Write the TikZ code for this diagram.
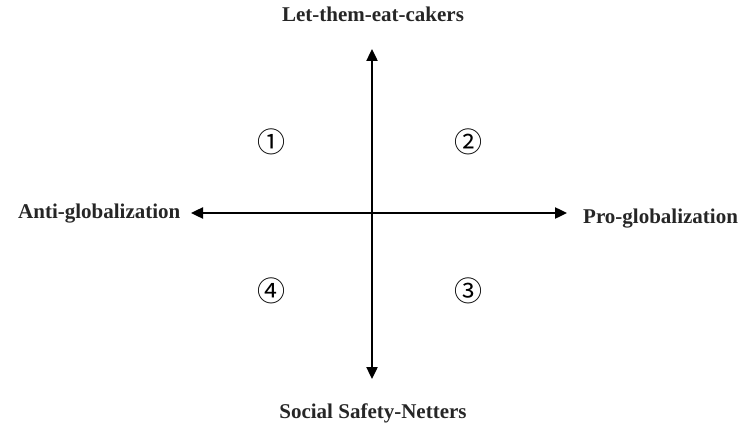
\documentclass[tikz,border=0pt]{standalone}
\usepackage{fontspec}
\setmainfont{Liberation Serif}
\newfontfamily\symfont{Noto Sans CJK JP}
\usetikzlibrary{arrows.meta}
\begin{document}
\begin{tikzpicture}[x=1pt,y=-1pt,
  axislabel/.style={font=\fontsize{21}{24}\selectfont\bfseries, text=black!85, inner sep=0pt},
  quadnum/.style={font=\symfont\fontsize{28}{30}\selectfont, inner sep=0pt},
  axis/.style={line width=2.4pt, {Triangle[length=12pt,width=11pt]}-{Triangle[length=12pt,width=11pt]}}]
  \useasboundingbox (0,0) rectangle (752,425);

  % axis end points
  \coordinate (top) at (372,49);
  \coordinate (bottom) at (372,379);
  \coordinate (left) at (191,213);
  \coordinate (right) at (567,213);

  \draw[axis] (bottom) -- (top);
  \draw[axis] (left) -- (right);

  % axis labels
  \node[axislabel, anchor=base] (north) at (373,22) {Let-them-eat-cakers};
  \node[axislabel, anchor=base] (south) at (373,418) {Social Safety-Netters};
  \node[axislabel, anchor=base west] (west) at (18,218) {Anti-globalization};
  \node[axislabel, anchor=base west] (east) at (583,223) {Pro-globalization};

  % quadrant numbers
  \node[quadnum] (q1) at (271,142) {①};
  \node[quadnum] (q2) at (468,142) {②};
  \node[quadnum] (q3) at (468,291) {③};
  \node[quadnum] (q4) at (271,291) {④};
\end{tikzpicture}
\end{document}
